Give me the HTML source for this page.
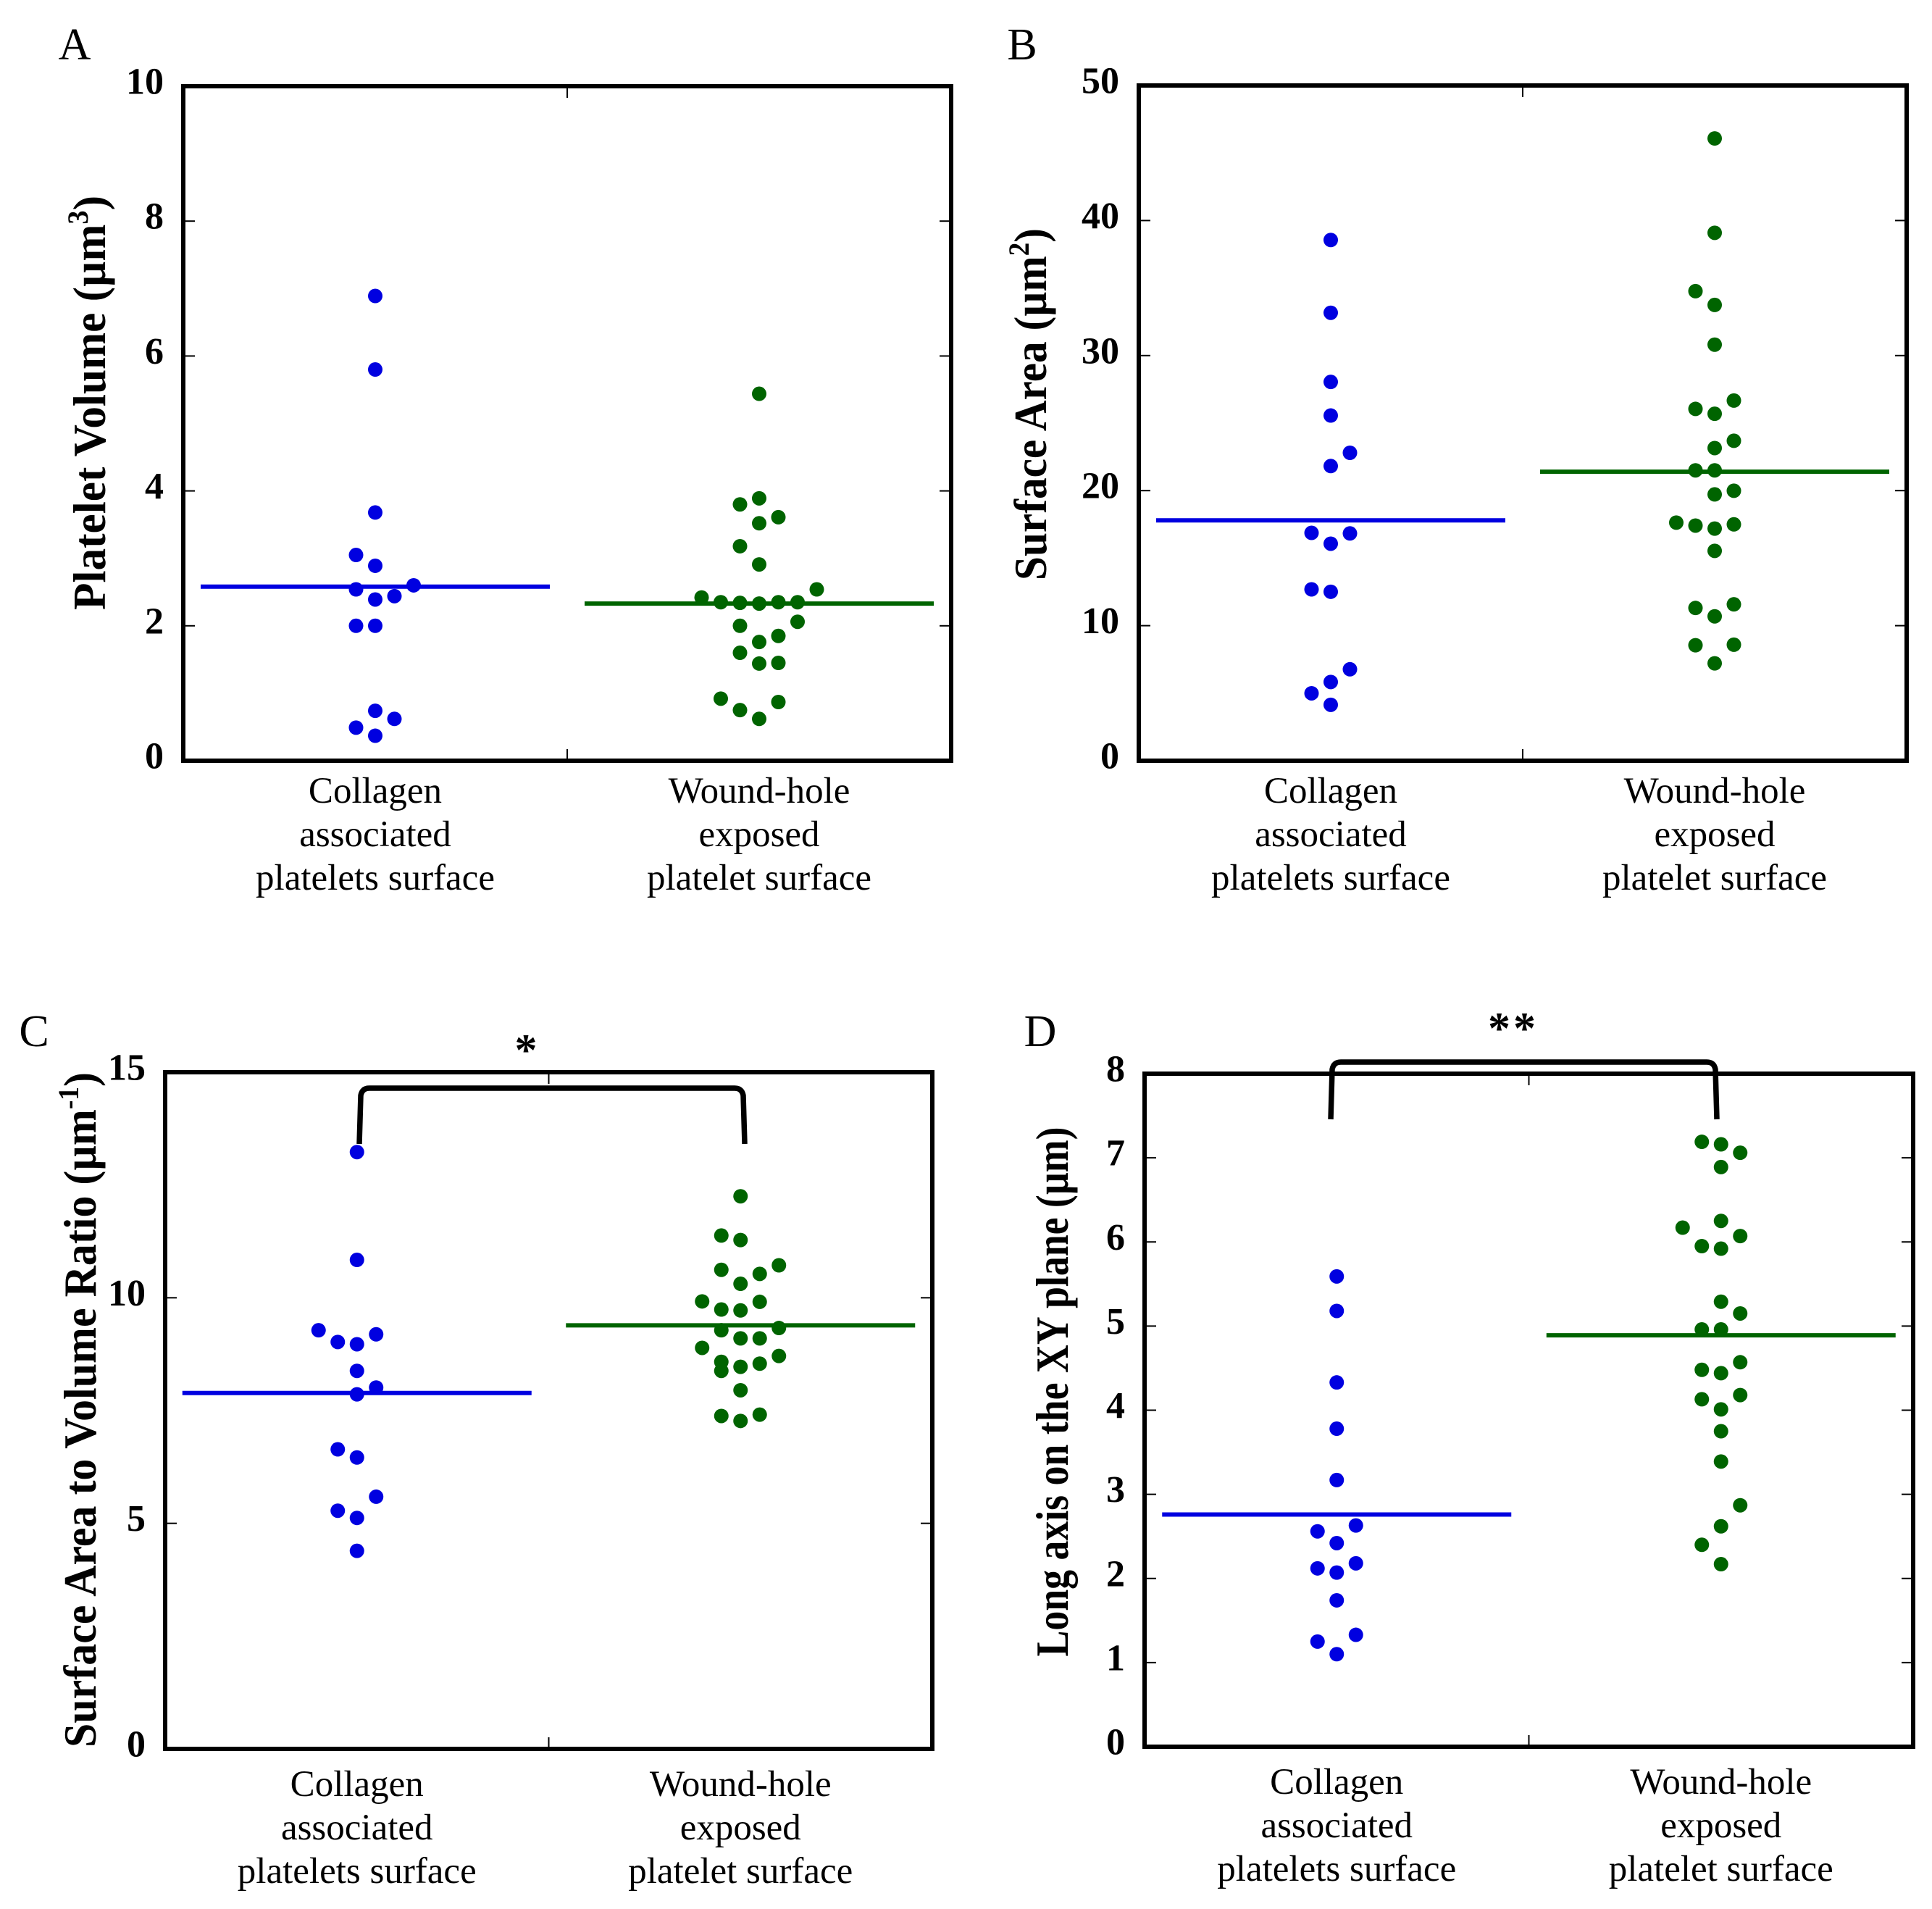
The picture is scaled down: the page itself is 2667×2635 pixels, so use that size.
<!DOCTYPE html>
<html><head><meta charset="utf-8"><style>
html,body{margin:0;padding:0;background:#fff;}
svg{display:block;}
text{font-family:"Liberation Serif",serif;fill:#000;}
</style></head><body>
<svg id="fig" width="2667" height="2635" viewBox="0 0 2667 2635" xmlns="http://www.w3.org/2000/svg"></svg>
<script>
// ---- Data ----
const categories = ["Collagen|associated|platelets surface", "Wound-hole|exposed|platelet surface"];
// each point: [jitter slot, value]
const aBlue = [[0,6.89],[0,5.80],[0,3.68],[-1,3.05],[0,2.89],[-1,2.54],[2,2.60],[0,2.39],[1,2.44],[-1,2.0],[0,2.0],[0,0.74],[-1,0.49],[1,0.62],[0,0.37]];
const aGreen = [[0,5.44],[-1,3.80],[0,3.89],[0,3.52],[1,3.61],[-1,3.18],[0,2.91],[-3,2.42],[-2,2.35],[-1,2.34],[0,2.33],[1,2.35],[2,2.35],[3,2.54],[-1,2.0],[2,2.06],[1,1.85],[0,1.76],[-1,1.60],[0,1.44],[1,1.45],[-2,0.92],[-1,0.75],[1,0.87],[0,0.62]];
const aMeans = [2.58, 2.33];
const bBlue = [[0,38.56],[0,33.17],[0,28.05],[0,25.56],[0,21.82],[1,22.80],[-1,16.87],[1,16.83],[0,16.07],[-1,12.69],[0,12.51],[1,6.77],[0,5.83],[-1,4.99],[0,4.14]];
const bGreen = [[0,46.08],[0,39.09],[-1,34.77],[0,33.75],[0,30.81],[-1,26.05],[0,25.69],[1,26.67],[0,23.15],[1,23.69],[-1,21.5],[0,21.5],[0,19.72],[1,19.99],[-2,17.63],[-1,17.41],[0,17.19],[1,17.5],[0,15.54],[-1,11.31],[1,11.58],[0,10.69],[-1,8.55],[1,8.59],[0,7.21]];
const bMeans = [17.8, 21.4];
const cBlue = [[0,13.23],[0,10.84],[-2,9.28],[-1,9.02],[0,8.97],[1,9.19],[0,8.38],[1,8.01],[0,7.86],[-1,6.64],[0,6.46],[1,5.59],[-1,5.28],[0,5.12],[0,4.39]];
const cGreen = [[0,12.25],[-1,11.38],[0,11.28],[-1,10.62],[1,10.53],[2,10.72],[0,10.31],[-2,9.92],[1,9.91],[-1,9.74],[0,9.72],[-1,9.28],[2,9.33],[0,9.10],[1,9.10],[-2,8.89],[2,8.71],[-1,8.58],[1,8.54],[0,8.47],[-1,8.38],[0,7.95],[-1,7.38],[1,7.41],[0,7.27]];
const cMeans = [7.89, 9.39];
const dBlue = [[0,5.59],[0,5.18],[0,4.33],[0,3.78],[0,3.17],[-1,2.56],[1,2.63],[0,2.42],[-1,2.12],[1,2.18],[0,2.07],[0,1.74],[-1,1.25],[1,1.33],[0,1.10]];
const dGreen = [[-1,7.19],[0,7.16],[1,7.06],[0,6.89],[-2,6.17],[0,6.25],[1,6.07],[-1,5.95],[0,5.92],[0,5.29],[1,5.15],[-1,4.96],[0,4.96],[-1,4.48],[0,4.44],[1,4.57],[-1,4.13],[1,4.18],[0,4.01],[0,3.75],[0,3.39],[1,2.87],[0,2.62],[-1,2.40],[0,2.17]];
const dMeans = [2.76, 4.89];
const aTicks = [0,2,4,6,8,10];
const bTicks = [0,10,20,30,40,50];
const cTicks = [0,5,10,15];
const dTicks = [0,1,2,3,4,5,6,7,8];

const NS = "http://www.w3.org/2000/svg";
const svg = document.getElementById('fig');
function mk(tag, attrs, parent){
  const e = document.createElementNS(NS, tag);
  for (const k in attrs) e.setAttribute(k, attrs[k]);
  (parent||svg).appendChild(e);
  return e;
}
const BLUE = "#0000e0", GREEN = "#006400";

function panel(cfg){
  const g = mk('g', {});
  
  
  const {L,R,T,B,ymax} = cfg;
  const W = R - L;
  const ys = v => B - v / ymax * (B - T);
  const xs = i => L + W * (0.25 + 0.5 * i);
  cfg.ticks.forEach(t => {
    const y = ys(t);
    const tl = mk('line', {x1:L, x2:L+16, y1:y, y2:y, stroke:'#000','stroke-width':2}, g);
    
    
    const tr = mk('line', {x1:R-16, x2:R, y1:y, y2:y, stroke:'#000','stroke-width':2}, g);
    
    
    const lab = mk('text', {x:L-27, y:y-6, 'text-anchor':'end','dominant-baseline':'central','font-size':52,'font-weight':'bold'}, g);
    
    
    lab.textContent = t;
  });
  const mx = (L + R) / 2;
  const xt1 = mk('line', {x1:mx, x2:mx, y1:T, y2:T+16, stroke:'#000','stroke-width':2}, g);
  
  
  const xt2 = mk('line', {x1:mx, x2:mx, y1:B-16, y2:B, stroke:'#000','stroke-width':2}, g);
  
  
  [[cfg.blue, BLUE, 0], [cfg.green, GREEN, 1]].forEach(([pts, col, ci]) => {
    pts.forEach(p => {
      const c = mk('circle', {cx: xs(ci) + p[0] * 26.5, cy: ys(p[1]), r: 10, fill: col}, g);
      
      
    });
    const m = mk('line', {x1: xs(ci) - 241, x2: xs(ci) + 241, y1: ys(cfg.means[ci]), y2: ys(cfg.means[ci]), stroke: col, 'stroke-width': 6}, g);
    
    
  });
  const fr = mk('rect', {x:L, y:T, width:W, height:B-T, fill:'none', stroke:'#000', 'stroke-width':6}, g);
  
  
  categories.forEach((c, ci) => {
    c.split('|').forEach((line, li) => {
      const t = mk('text', {x: xs(ci), y: B + cfg.lab0 + li * cfg.labStep, 'text-anchor':'middle', 'font-size':51}, g);
      
      
      t.textContent = line;
    });
  });
  const tt = mk('text', {x:0, y:0, transform:`translate(${cfg.tx},${cfg.tcy}) rotate(-90)`, 'text-anchor':'middle', 'font-size':64, 'font-weight':'bold', textLength:cfg.tlen, lengthAdjust:'spacingAndGlyphs'}, g);
  
  
  tt.innerHTML = cfg.title;
  const pl = mk('text', {x:cfg.px, y:cfg.py, 'text-anchor':'middle','dominant-baseline':'central','font-size':62}, g);
  
  
  pl.textContent = cfg.id;
  return {xs, ys};
}

panel({id:'A', L:253, R:1313, T:119, B:1050, ymax:10, ticks:aTicks, blue:aBlue, green:aGreen, means:aMeans,
  lab0:58, labStep:60, tx:145, tcy:556, tlen:572, px:103, py:62,
  title:'Platelet Volume (µm<tspan dy="-24" font-size="40">3</tspan><tspan dy="24">)</tspan>'});
panel({id:'B', L:1572, R:2632, T:118, B:1050, ymax:50, ticks:bTicks, blue:bBlue, green:bGreen, means:bMeans,
  lab0:58, labStep:60, tx:1444, tcy:558, tlen:486, px:1411, py:62,
  title:'Surface Area (µm<tspan dy="-24" font-size="40">2</tspan><tspan dy="24">)</tspan>'});
panel({id:'C', L:228, R:1287, T:1480, B:2414, ymax:15, ticks:cTicks, blue:cBlue, green:cGreen, means:cMeans,
  lab0:65, labStep:60, tx:132, tcy:1946, tlen:932, px:47, py:1424,
  title:'Surface Area to Volume Ratio (µm<tspan dy="-24" font-size="40">-1</tspan><tspan dy="24">)</tspan>'});
panel({id:'D', L:1580, R:2641, T:1482, B:2411, ymax:8, ticks:dTicks, blue:dBlue, green:dGreen, means:dMeans,
  lab0:65, labStep:60, tx:1474, tcy:1921, tlen:731, px:1436, py:1424,
  title:'Long axis on the XY plane (µm)'});

function bracket(x1, x2, yTop, yBot, name){
  const p = mk('path', {d:`M${x1},${yBot} L${x1+2},${yTop+10} Q${x1+4},${yTop} ${x1+14},${yTop} L${x2-14},${yTop} Q${x2-4},${yTop} ${x2-2},${yTop+10} L${x2},${yBot}`, fill:'none', stroke:'#000', 'stroke-width':7.5});
  
  
}
bracket(496, 1028, 1502, 1579, 'significance-bracket-c');
bracket(1837, 2370, 1466, 1545, 'significance-bracket-d');
const s1 = mk('text', {x:726, y:1470, 'text-anchor':'middle', 'font-size':62, 'font-weight':'bold'});


s1.textContent = '*';
const s2 = mk('text', {x:2089, y:1440, 'text-anchor':'middle', 'font-size':62, 'font-weight':'bold', 'letter-spacing':4});


s2.textContent = '**';
</script>
</body></html>
